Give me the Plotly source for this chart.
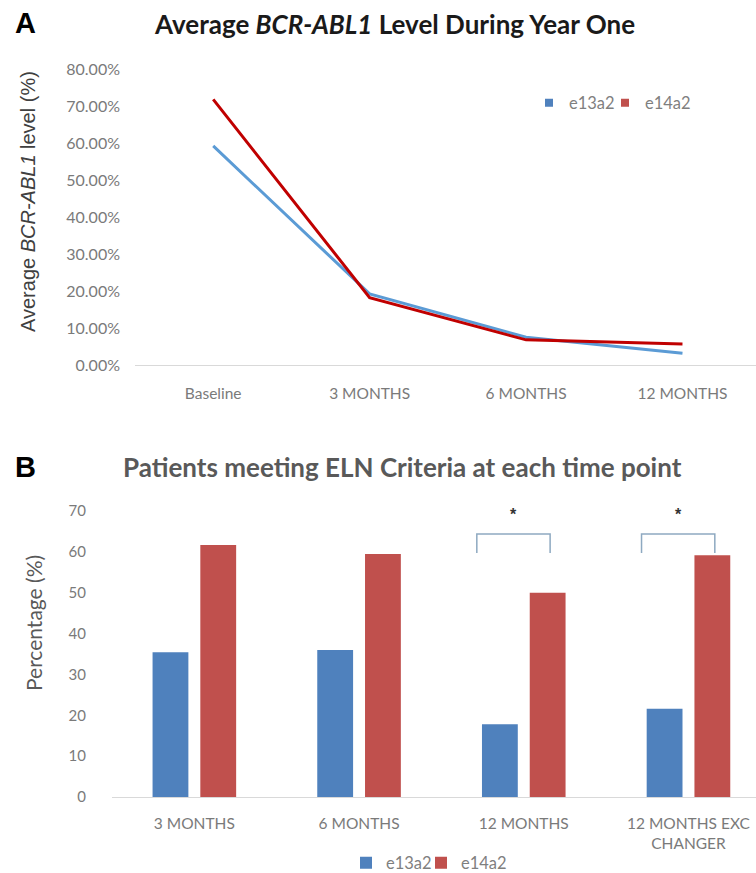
import plotly.graph_objects as go

W, H = 756, 873

# ---------------- data ----------------
time_points_a = ["Baseline", "3 MONTHS", "6 MONTHS", "12 MONTHS"]
e13a2_level = [0.592, 0.192, 0.075, 0.032]
e14a2_level = [0.718, 0.182, 0.068, 0.057]
level_ticks = [0, 0.1, 0.2, 0.3, 0.4, 0.5, 0.6, 0.7, 0.8]
level_ticklabels = ["0.00%", "10.00%", "20.00%", "30.00%", "40.00%",
                    "50.00%", "60.00%", "70.00%", "80.00%"]

time_points_b = ["3 MONTHS", "6 MONTHS", "12 MONTHS", "12 MONTHS EXC<br>CHANGER"]
e13a2_eln = [35.4, 36.0, 17.8, 21.6]
e14a2_eln = [61.7, 59.5, 50.0, 59.2]
eln_ticks = [0, 10, 20, 30, 40, 50, 60, 70]
significant_points = ["12 MONTHS", "12 MONTHS EXC<br>CHANGER"]

# ---------------- styles ----------------
BLUE_LINE = "#5B9BD5"
RED_LINE = "#C00000"
BLUE_BAR = "#4F81BD"
RED_BAR = "#C0504D"
TICK_COLOR = "#7a7a7a"
AXIS_COLOR = "#d9d9d9"
TICK_FONT = "Lato, 'Open Sans', sans-serif"


def px_x(p):
    return p / W


def px_y(p):
    return 1 - p / H


fig = go.Figure()

# Panel A lines
fig.add_trace(go.Scatter(x=time_points_a, y=e13a2_level, mode="lines",
                         line=dict(color=BLUE_LINE, width=3),
                         name="e13a2", showlegend=False,
                         xaxis="x", yaxis="y"))
fig.add_trace(go.Scatter(x=time_points_a, y=e14a2_level, mode="lines",
                         line=dict(color=RED_LINE, width=3),
                         name="e14a2", showlegend=False,
                         xaxis="x", yaxis="y"))
# legend entries for panel A (square keys)
fig.add_trace(go.Scatter(x=[None], y=[None], mode="markers",
                         marker=dict(symbol="square", size=8, color=BLUE_BAR),
                         name="e13a2", legend="legend", xaxis="x", yaxis="y"))
fig.add_trace(go.Scatter(x=[None], y=[None], mode="markers",
                         marker=dict(symbol="square", size=8, color=RED_BAR),
                         name="e14a2", legend="legend2", xaxis="x", yaxis="y"))

# Panel B bars
fig.add_trace(go.Bar(x=time_points_b, y=e13a2_eln, name="e13a2",
                     marker=dict(color=BLUE_BAR, line=dict(width=0)),
                     legend="legend3", xaxis="x2", yaxis="y2"))
fig.add_trace(go.Bar(x=time_points_b, y=e14a2_eln, name="e14a2",
                     marker=dict(color=RED_BAR, line=dict(width=0)),
                     legend="legend4", xaxis="x2", yaxis="y2"))

# significance brackets
shapes = []
annotations = []
BR_LEFT, BR_RIGHT, BR_TOP, BR_BOTTOM, STAR_Y = -0.285, 0.16, 64.4, 59.7, 69.2
for cat in significant_points:
    i = time_points_b.index(cat)
    x0, x1 = i + BR_LEFT, i + BR_RIGHT
    shapes.append(dict(type="path", xref="x2", yref="y2",
                       path=f"M {x0},{BR_BOTTOM} L {x0},{BR_TOP} L {x1},{BR_TOP} L {x1},{BR_BOTTOM}",
                       line=dict(color="#8EA9C1", width=1.5)))
    annotations.append(dict(x=(x0 + x1) / 2, y=STAR_Y, xref="x2", yref="y2",
                            xanchor="center", yanchor="middle",
                            text="<b>*</b>", showarrow=False,
                            font=dict(size=16, color="#333333",
                                      family="Liberation Sans, Arial")))


def label(x, y, text, size, color, family, angle=0):
    return dict(x=px_x(x), y=px_y(y), xref="paper", yref="paper", text=text,
                xanchor="center", yanchor="middle", textangle=angle,
                showarrow=False, font=dict(size=size, color=color, family=family))


annotations += [
    label(25.5, 22.5, "<b>A</b>", 29, "black", "Liberation Sans, Arial"),
    label(395, 24, "<b>Average <i>BCR-ABL1</i> Level During Year One</b>",
          26, "#1a1a1a", TICK_FONT),
    label(28, 202, "Average <i>BCR-ABL1</i> level (%)", 20, "#404040",
          "Liberation Sans, Arial", -90),
    label(25.5, 467, "<b>B</b>", 29, "black", "Liberation Sans, Arial"),
    label(402, 467, "<b>Patients meeting ELN Criteria at each time point</b>",
          26, "#595959", TICK_FONT),
    label(33, 623, "Percentage (%)", 21, "#595959", TICK_FONT, -90),
]


def one_legend(marker_x, y):
    return dict(orientation="h", x=px_x(marker_x - 22), y=px_y(y),
                xanchor="left", yanchor="middle",
                font=dict(size=16.5, color="#7f7f7f", family=TICK_FONT),
                bgcolor="rgba(0,0,0,0)", itemwidth=30)


fig.update_layout(
    width=W, height=H,
    margin=dict(l=0, r=0, t=0, b=0, autoexpand=False),
    paper_bgcolor="white", plot_bgcolor="white",
    barmode="group", bargap=0.42, bargroupgap=0.25,
    shapes=shapes, annotations=annotations,
    xaxis=dict(domain=[px_x(135), 1], range=[-0.5, 3.47], type="category",
               showgrid=False, zeroline=False, showline=True,
               linecolor=AXIS_COLOR, linewidth=1, ticks="", automargin=False,
               ticklabelstandoff=14,
               tickfont=dict(size=15.5, color=TICK_COLOR, family=TICK_FONT),
               anchor="y"),
    yaxis=dict(domain=[px_y(365), px_y(69)], range=[0, 0.8],
               tickvals=level_ticks, ticktext=level_ticklabels,
               showgrid=False, zeroline=False, showline=False, ticks="",
               automargin=False, ticklabelstandoff=14,
               tickfont=dict(size=16, color=TICK_COLOR, family=TICK_FONT),
               anchor="x"),
    xaxis2=dict(domain=[px_x(112), 1], range=[-0.5, 3.41], type="category",
                showgrid=False, zeroline=False, showline=True,
                linecolor=AXIS_COLOR, linewidth=1, ticks="", automargin=False,
                ticklabelstandoff=12,
                tickfont=dict(size=15.5, color=TICK_COLOR, family=TICK_FONT),
                anchor="y2"),
    yaxis2=dict(domain=[px_y(797), px_y(511)], range=[0, 70],
                tickvals=eln_ticks,
                showgrid=False, zeroline=False, showline=False, ticks="",
                automargin=False, ticklabelstandoff=25,
                tickfont=dict(size=15, color=TICK_COLOR, family=TICK_FONT),
                anchor="x2"),
    legend=one_legend(551, 103),
    legend2=one_legend(627, 103),
    legend3=one_legend(368, 863),
    legend4=one_legend(443, 863),
    showlegend=True,
)

post = ("document.documentElement.style.margin='0';"
        "document.documentElement.style.padding='0';"
        "document.documentElement.style.overflow='hidden';"
        "document.body.style.margin='0';"
        "document.body.style.padding='0';"
        "document.body.style.overflow='hidden';")

fig.write_html("out.html", post_script=post,
               config={"displayModeBar": False})
